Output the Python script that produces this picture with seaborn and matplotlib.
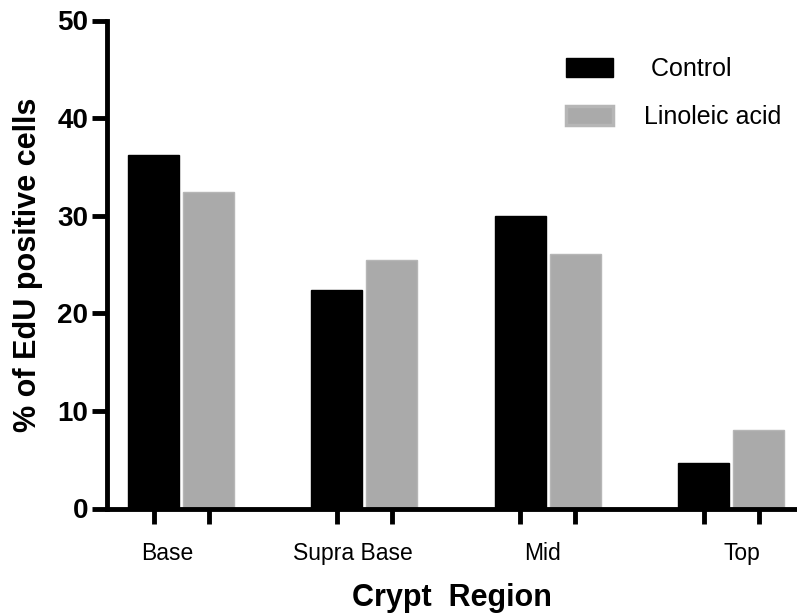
import matplotlib
matplotlib.use("Agg")
import matplotlib.pyplot as plt
from matplotlib.patches import Patch
from matplotlib.transforms import blended_transform_factory
import seaborn as sns
import pandas as pd

# Percentage of EdU-positive cells per crypt region
regions = ["Base", "Supra Base", "Mid", "Top"]
treatments = ["Control", "Linoleic acid"]
control_values = [36.2, 22.4, 30.0, 4.65]
linoleic_values = [32.4, 25.5, 26.1, 8.0]
y_ticks = [0, 10, 20, 30, 40, 50]

df = pd.DataFrame({
    "region": regions * 2,
    "treatment": [treatments[0]] * len(regions) + [treatments[1]] * len(regions),
    "value": control_values + linoleic_values,
})

sns.set_theme(style="white")
plt.rcParams["font.family"] = ["Liberation Sans", "DejaVu Sans"]
plt.rcParams["text.color"] = "black"
plt.rcParams["axes.labelcolor"] = "black"
plt.rcParams["xtick.color"] = "black"
plt.rcParams["ytick.color"] = "black"

W, H = 797, 616
fig = plt.figure(figsize=(W / 100, H / 100), dpi=100)
ax = fig.add_axes([107 / W, (H - 508.5) / H, 690 / W, 488 / H])

colors = {"Control": "#000000", "Linoleic acid": "#aaaaaa"}
edges = {"Control": "#000000", "Linoleic acid": "#b6b6b6"}

sns.barplot(data=df, x="region", y="value", hue="treatment",
            order=regions, hue_order=treatments, palette=colors,
            width=0.6, gap=0.07, errorbar=None, ax=ax, legend=False)

# Edge colours per series and tick positions under each bar
bar_centres = []
n = len(regions)
for i, p in enumerate(ax.patches[: 2 * n]):
    t = treatments[i // n]
    p.set_edgecolor(edges[t])
    p.set_linewidth(1.0)
    bar_centres.append(p.get_x() + p.get_width() / 2)

ax.set_xlim(-0.4037, 3.360)
ax.set_ylim(0, 50)

lw = 3.5
for side in ["top", "right"]:
    ax.spines[side].set_visible(False)
for side in ["left", "bottom"]:
    ax.spines[side].set_linewidth(lw)
    ax.spines[side].set_color("black")

ax.set_yticks(y_ticks)
ax.set_yticklabels([str(v) for v in y_ticks], fontsize=20, fontweight="bold",
                   color="black")
ax.set_xticks(bar_centres)
ax.set_xticklabels([""] * len(bar_centres))
ax.tick_params(axis="both", which="major", direction="out", length=10.5,
               width=lw, color="black", left=True, bottom=True, pad=3)

# Category names below each pair of bars
label_shift = [-0.076, -0.065, -0.027, 0.06]
trans = blended_transform_factory(ax.transData, fig.transFigure)
for i, name in enumerate(regions):
    ax.text(i + label_shift[i], 1 - 560 / H, name, transform=trans,
            ha="center", va="baseline", fontsize=16.5, color="black")

ax.set_xlabel("Crypt  Region", fontsize=22, fontweight="bold", labelpad=40,
              color="black")
ax.set_ylabel("% of EdU positive cells", fontsize=22, fontweight="bold",
              labelpad=10, color="black")

handles = [
    Patch(facecolor=colors["Control"], edgecolor=edges["Control"], linewidth=1.0),
    Patch(facecolor=colors["Linoleic acid"], edgecolor=edges["Linoleic acid"], linewidth=2.5),
]
leg = ax.legend(handles, [" Control", "Linoleic acid"], loc="upper left",
                bbox_to_anchor=(566 / W, 1 - 57 / H), bbox_transform=fig.transFigure,
                frameon=False, fontsize=18, handlelength=1.88, handleheight=0.8,
                handletextpad=1.24, labelspacing=0.96, borderpad=0, borderaxespad=0)
for txt in leg.get_texts():
    txt.set_color("black")

fig.savefig("out.png", dpi=100)
